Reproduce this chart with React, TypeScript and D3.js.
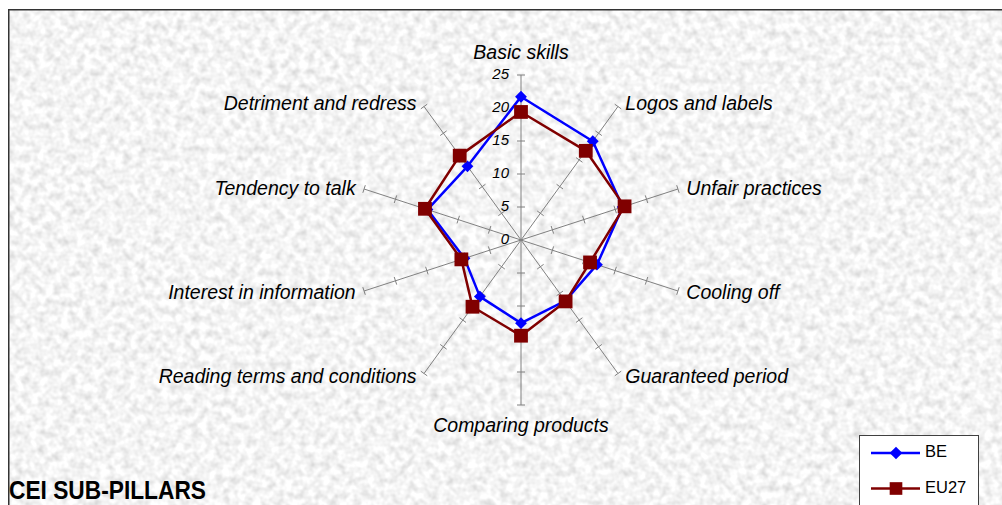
import { useEffect, useRef } from "react";
import { select, scaleLinear, lineRadial, curveLinearClosed, symbol, symbolSquare } from "d3";

const axes = [
  "Basic skills",
  "Logos and labels",
  "Unfair practices",
  "Cooling off",
  "Guaranteed period",
  "Comparing products",
  "Reading terms and conditions",
  "Interest in information",
  "Tendency to talk",
  "Detriment and redress",
];
const beValues = [21.7, 18.5, 16.2, 12.1, 11.4, 12.6, 10.6, 9.0, 14.9, 13.8];
const eu27Values = [19.4, 16.7, 16.5, 11.0, 11.5, 14.5, 12.5, 9.5, 15.3, 15.8];
const tickValues = [0, 5, 10, 15, 20, 25];
const seriesNames = ["BE", "EU27"];
const seriesColors = ["#0000ff", "#800000"];

const W = 1002;
const H = 505;
const cx = 521;
const cy = 240;
const R = 165;

export default function App() {
  const ref = useRef<SVGSVGElement>(null);

  useEffect(() => {
    const svg = select(ref.current);
    svg.selectAll("*").remove();

    const r = scaleLinear().domain([0, 25]).range([0, R]);
    const angle = (i: number) => (i * 2 * Math.PI) / axes.length;
    const px = (i: number, v: number) => cx + r(v) * Math.sin(angle(i));
    const py = (i: number, v: number) => cy - r(v) * Math.cos(angle(i));

    // textured background
    const defs = svg.append("defs");
    const f = defs.append("filter").attr("id", "marble").attr("x", 0).attr("y", 0).attr("width", "100%").attr("height", "100%");
    f.append("feTurbulence")
      .attr("type", "fractalNoise")
      .attr("baseFrequency", 0.13)
      .attr("numOctaves", 2)
      .attr("seed", 7);
    f.append("feColorMatrix")
      .attr("type", "matrix")
      .attr("values", "0.55 0 0 0 0.63  0.55 0 0 0 0.63  0.55 0 0 0 0.63  0 0 0 0 1");

    svg.append("rect").attr("width", W).attr("height", H).attr("fill", "#fff");
    svg.append("rect").attr("x", 9).attr("y", 10).attr("width", W - 9).attr("height", H - 10).attr("filter", "url(#marble)");
    svg.append("path")
      .attr("d", `M8.75,${H}V9.75H${W}`)
      .attr("fill", "none")
      .attr("stroke", "#333")
      .attr("stroke-width", 1.5);

    // axes
    const g = svg.append("g");
    axes.forEach((name, i) => {
      const a = angle(i);
      g.append("line")
        .attr("x1", cx).attr("y1", cy)
        .attr("x2", px(i, 25)).attr("y2", py(i, 25))
        .attr("stroke", "#808080").attr("stroke-width", 1);
      tickValues.slice(1).forEach((t) => {
        const x = px(i, t), y = py(i, t);
        const dx = 4 * Math.cos(a), dy = 4 * Math.sin(a);
        g.append("line")
          .attr("x1", x - dx).attr("y1", y - dy)
          .attr("x2", x + dx).attr("y2", y + dy)
          .attr("stroke", "#808080").attr("stroke-width", 1);
      });

      const ex = px(i, 25), ey = py(i, 25);
      const s = Math.sin(a);
      const gap = 9 - 2 * Math.abs(Math.cos(a));
      let anchor = "middle", lx = ex, ly = ey + 1.5 - 3.5 * Math.cos(a);
      if (Math.abs(s) < 0.01) {
        ly = Math.cos(a) > 0 ? ey - 21 : ey + 22;
      } else if (s > 0) {
        anchor = "start"; lx = ex + gap;
      } else {
        anchor = "end"; lx = ex - gap;
      }
      g.append("text")
        .attr("x", lx).attr("y", ly)
        .attr("text-anchor", anchor)
        .attr("dominant-baseline", "middle")
        .attr("font-family", "Liberation Sans, Arial, sans-serif")
        .attr("font-style", "italic")
        .attr("font-size", 19.5)
        .attr("fill", "#000")
        .text(name);
    });

    tickValues.forEach((t) => {
      g.append("text")
        .attr("x", cx - 12).attr("y", cy - r(t))
        .attr("text-anchor", "end")
        .attr("dominant-baseline", "middle")
        .attr("font-family", "Liberation Sans, Arial, sans-serif")
        .attr("font-style", "italic")
        .attr("font-size", 15)
        .text(t);
    });

    // series
    const line = lineRadial<number>()
      .angle((_, i) => angle(i))
      .radius((d) => r(d))
      .curve(curveLinearClosed);
    const diamond = symbol(symbolSquare, 70)();
    const square = symbol(symbolSquare, 190)();

    [beValues, eu27Values].forEach((vals, k) => {
      const sg = svg.append("g");
      sg.append("path")
        .attr("transform", `translate(${cx},${cy})`)
        .attr("d", line(vals))
        .attr("fill", "none")
        .attr("stroke", seriesColors[k])
        .attr("stroke-width", 2.5)
        .attr("stroke-linejoin", "round");
      sg.selectAll("path.m")
        .data(vals)
        .enter()
        .append("path")
        .attr("class", "m")
        .attr("d", k === 0 ? diamond : square)
        .attr("transform", (d, i) => `translate(${px(i, d)},${py(i, d)})${k === 0 ? " rotate(45)" : ""}`)
        .attr("fill", seriesColors[k]);
    });

    // title
    svg.append("text")
      .attr("x", 9).attr("y", 499)
      .attr("font-family", "Liberation Sans, Arial, sans-serif")
      .attr("font-weight", "bold")
      .attr("font-size", 26)
      .attr("textLength", 197)
      .attr("lengthAdjust", "spacingAndGlyphs")
      .text("CEI SUB-PILLARS");

    // legend
    const lg = svg.append("g");
    lg.append("rect")
      .attr("x", 859.5).attr("y", 435.5).attr("width", 119).attr("height", 80)
      .attr("fill", "#fff").attr("stroke", "#404040").attr("stroke-width", 1);
    seriesNames.forEach((name, k) => {
      const y = 453 + k * 35.5;
      lg.append("line")
        .attr("x1", 871).attr("x2", 920).attr("y1", y).attr("y2", y)
        .attr("stroke", seriesColors[k]).attr("stroke-width", 2.5);
      lg.append("path")
        .attr("d", k === 0 ? symbol(symbolSquare, 80)() : symbol(symbolSquare, 160)())
        .attr("transform", `translate(896,${y})${k === 0 ? " rotate(45)" : ""}`)
        .attr("fill", seriesColors[k]);
      lg.append("text")
        .attr("x", 925).attr("y", y)
        .attr("dominant-baseline", "middle")
        .attr("font-family", "Liberation Sans, Arial, sans-serif")
        .attr("font-size", 16.5)
        .text(name);
    });
  }, []);

  return (
    <svg
      ref={ref}
      width={W}
      height={H}
      style={{ position: "absolute", left: 0, top: 0, display: "block" }}
    />
  );
}
